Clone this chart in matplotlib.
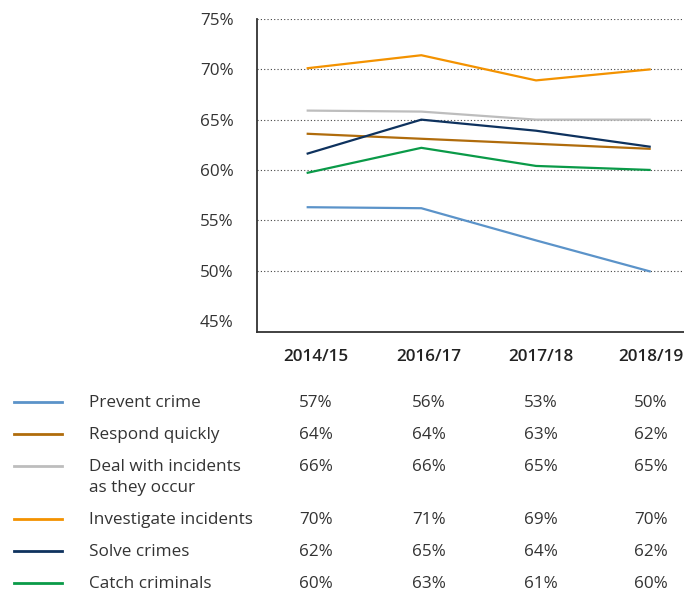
import matplotlib
matplotlib.use('Agg')
import matplotlib.pyplot as plt

# data
years = ['2014/15', '2016/17', '2017/18', '2018/19']
series_names = ['Prevent crime', 'Respond quickly', 'Deal with incidents\nas they occur',
                'Investigate incidents', 'Solve crimes', 'Catch criminals']
colors = ['#5b93c9', '#b06c0c', '#bdbdbd', '#f39200', '#0e325e', '#0a9a48']

prevent = [56.3, 56.2, 53.0, 49.9]
respond = [63.6, 63.1, 62.6, 62.1]
deal = [65.9, 65.8, 65.0, 65.0]
investigate = [70.1, 71.4, 68.9, 70.0]
solve = [61.6, 65.0, 63.9, 62.3]
catch = [59.7, 62.2, 60.4, 60.0]
lines = [prevent, respond, deal, investigate, solve, catch]

# rounded figures shown in the table
prevent_tab = ['57%', '56%', '53%', '50%']
respond_tab = ['64%', '64%', '63%', '62%']
deal_tab = ['66%', '66%', '65%', '65%']
investigate_tab = ['70%', '71%', '69%', '70%']
solve_tab = ['62%', '65%', '64%', '62%']
catch_tab = ['60%', '63%', '61%', '60%']
table_vals = [prevent_tab, respond_tab, deal_tab, investigate_tab, solve_tab, catch_tab]

yticks = [45, 50, 55, 60, 65, 70, 75]

plt.rcParams['font.family'] = ['Open Sans', 'DejaVu Sans']
W, H = 684, 596
FS = 12.3
fig = plt.figure(figsize=(W / 100, H / 100), dpi=100)
ax = fig.add_axes([257.3 / W, 1 - 332 / H, 1 - 257.3 / W, (332 - 19) / H])

x = list(range(len(years)))
for vals, c in zip(lines, colors):
    ax.plot(x, vals, color=c, lw=1.6, solid_capstyle='butt', zorder=3)

ax.set_xlim(-0.43, 3.29)
ax.set_ylim(43.9, 75)
ax.set_yticks(yticks)
ax.set_yticklabels([f'{v}%' for v in yticks], fontsize=FS, color='#333333')
ax.set_xticks([])
ax.tick_params(axis='y', length=0, pad=17)
for v in yticks[1:]:
    ax.axhline(v, color='#444444', lw=0.8, ls=(0, (1, 2)), zorder=1)
for s in ['top', 'right']:
    ax.spines[s].set_visible(False)
for s in ['left', 'bottom']:
    ax.spines[s].set_color('#333333')
    ax.spines[s].set_linewidth(1.3)

# table below
col_x = [316, 429, 541, 651]
for cx, yr in zip(col_x, years):
    fig.text(cx / W, 1 - 357 / H, yr, ha='center', va='center', fontsize=FS,
             fontweight='semibold', color='#222222')

row_y = [402, 434, 466, 519, 551, 583]
for ry, name, c, vals in zip(row_y, series_names, colors, table_vals):
    fig.add_artist(plt.Line2D([14 / W, 62 / W], [1 - ry / H, 1 - ry / H], color=c, lw=2))
    fig.text(89 / W, 1 - (ry - 7) / H, name, ha='left', va='top', fontsize=FS,
             color='#333333', linespacing=1.38)
    for cx, v in zip(col_x, vals):
        fig.text(cx / W, 1 - (ry + 1) / H, v, ha='center', va='center', fontsize=FS, color='#333333')

fig.savefig('out.png', dpi=100)
